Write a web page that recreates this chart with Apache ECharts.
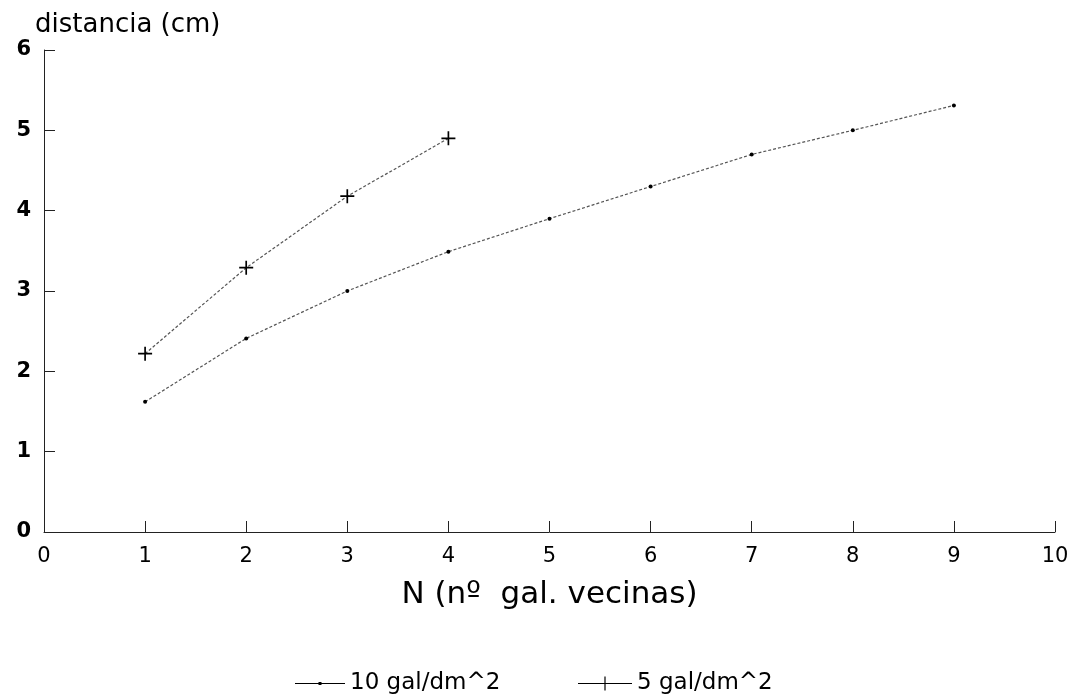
<!DOCTYPE html>
<html>
<head>
<meta charset="utf-8">
<script src="https://cdn.jsdelivr.net/npm/echarts@6/dist/echarts.min.js"></script>
<style>
  html, body { margin: 0; padding: 0; background: #fff; }
  #chart { width: 1074px; height: 697px; }
</style>
</head>
<body>
<div id="chart"></div>
<script>
// Data
const seriesNames = ['10 gal/dm^2', '5 gal/dm^2'];
const n10 = [1, 2, 3, 4, 5, 6, 7, 8, 9];
const dist10 = [1.62, 2.41, 3.00, 3.49, 3.90, 4.30, 4.70, 5.00, 5.31];
const n5 = [1, 2, 3, 4];
const dist5 = [2.22, 3.29, 4.18, 4.90];
const xTickValues = [0, 1, 2, 3, 4, 5, 6, 7, 8, 9, 10];
const yTickValues = [0, 1, 2, 3, 4, 5, 6];
const xAxisTitle = 'N (nº  gal. vecinas)';
const yAxisTitle = 'distancia (cm)';

const FONT = 'DejaVu Sans';
const plusPath = 'path://M0,4.4H10V5.6H0Z M4.4,0H5.6V10H4.4Z';
// legend icons: a line with a small dot / a line with a plus
const legendDotIcon = 'path://M0,2.6H50V3.4H0Z M23.5,1.5H26.5V4.5H23.5Z M0,0H0.01V6H0Z';
const legendPlusIcon = 'path://M0,6.6H54V7.4H0Z M26.4,0H27.6V14H26.4Z';

const legendText = { fontFamily: FONT, fontSize: 23, color: '#000' };

const chart = echarts.init(document.getElementById('chart'), null, { renderer: 'canvas' });
chart.setOption({
  backgroundColor: '#ffffff',
  animation: false,
  grid: { left: 44, right: 19, top: 50, bottom: 165, containLabel: false },
  legend: [
    {
      data: [{ name: seriesNames[0], icon: legendDotIcon }],
      left: 290,
      top: 667,
      itemWidth: 50,
      itemHeight: 6,
      textStyle: legendText,
      selectedMode: false
    },
    {
      data: [{ name: seriesNames[1], icon: legendPlusIcon }],
      left: 573,
      top: 667,
      itemWidth: 54,
      itemHeight: 14,
      textStyle: legendText,
      selectedMode: false
    }
  ],
  xAxis: {
    type: 'value',
    min: xTickValues[0],
    max: xTickValues[xTickValues.length - 1],
    interval: 1,
    name: xAxisTitle,
    nameLocation: 'middle',
    nameGap: 47,
    nameTextStyle: { fontFamily: FONT, fontSize: 31, color: '#000' },
    axisLine: { show: true, onZero: false, lineStyle: { color: '#222', width: 1 } },
    axisTick: { show: true, inside: true, length: 11, lineStyle: { color: '#222', width: 1 } },
    axisLabel: { margin: 14, fontFamily: FONT, fontSize: 21, color: '#000' },
    splitLine: { show: false }
  },
  yAxis: {
    type: 'value',
    min: yTickValues[0],
    max: yTickValues[yTickValues.length - 1],
    interval: 1,
    name: yAxisTitle,
    nameLocation: 'end',
    nameGap: 12,
    nameTextStyle: { fontFamily: FONT, fontSize: 26, color: '#000', align: 'left', padding: [0, 0, 0, -9] },
    axisLine: { show: true, onZero: false, lineStyle: { color: '#222', width: 1 } },
    axisTick: { show: true, inside: true, length: 11, lineStyle: { color: '#222', width: 1 } },
    axisLabel: { margin: 13, fontFamily: FONT, fontSize: 21, color: '#000', fontWeight: 'bold' },
    splitLine: { show: false }
  },
  series: [
    {
      name: seriesNames[0],
      type: 'line',
      data: n10.map((x, i) => [x, dist10[i]]),
      symbol: 'circle',
      symbolSize: 4,
      itemStyle: { color: '#000' },
      lineStyle: { color: '#555', width: 1.2, type: [3, 2] }
    },
    {
      name: seriesNames[1],
      type: 'line',
      data: n5.map((x, i) => [x, dist5[i]]),
      symbol: plusPath,
      symbolSize: 14,
      itemStyle: { color: '#000' },
      lineStyle: { color: '#555', width: 1.2, type: [3, 2] }
    }
  ]
});
</script>
</body>
</html>
